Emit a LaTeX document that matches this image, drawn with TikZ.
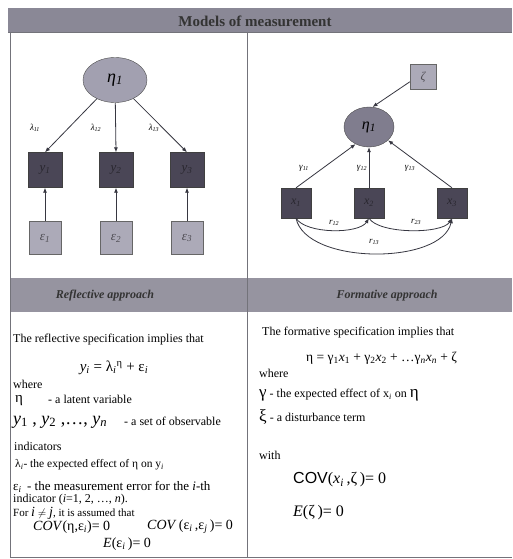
\documentclass[tikz,border=0pt]{standalone}
\usepackage{fontspec}
\setmainfont{Liberation Serif}
\newfontfamily\sansf{Liberation Sans}
\usetikzlibrary{arrows.meta,shapes.geometric}
\definecolor{band}{RGB}{138,136,150}
\definecolor{subband}{RGB}{150,148,160}
\definecolor{darkbox}{RGB}{74,70,86}
\definecolor{lightbox}{RGB}{172,170,184}
\definecolor{ellL}{RGB}{162,160,176}
\definecolor{ellR}{RGB}{128,125,142}
\definecolor{linec}{RGB}{55,55,65}
\newcommand{\lsub}[1]{\textsubscript{#1}}
\newcommand{\fs}[1]{\fontsize{#1}{#1}\selectfont}
\tikzset{
  rule/.style={draw=linec!70, line width=0.6pt},
  arr/.style={draw=linec, line width=0.8pt, -{Latex[length=5pt,width=4pt]}},
  dbox/.style={draw=black!75, fill=darkbox, minimum width=34pt, minimum height=35pt, inner sep=0pt, font=\fs{13}\itshape, text=darkbox!55!black},
  lbox/.style={draw=black!60, fill=lightbox, minimum width=32pt, minimum height=33pt, inner sep=0pt, font=\fs{13}\itshape, text=lightbox!45!black},
  lv/.style={ellipse, draw=black!70, fill=ellL, minimum width=64pt, minimum height=45pt, inner sep=0pt, font=\fs{18}\itshape},
  lab/.style={inner sep=0pt, font=\fs{9}\itshape},
  txt/.style={anchor=west, inner sep=0pt, font=\fs{12}},
  hdr/.style={inner sep=0pt, font=\fs{12}\bfseries\itshape, text=black!80},
}
\begin{document}
\begin{tikzpicture}[x=1pt,y=-1pt]
\useasboundingbox (0,0) rectangle (512,559);
\fill[white] (0,0) rectangle (512,559);
% table
\fill[band] (8,8) rectangle (512,32);
\node[inner sep=0pt, font=\fs{15}\bfseries, text=black!80] (title) at (255,21) {Models of measurement};
\fill[subband] (10,278) rectangle (512,312);
\draw[rule] (8,32) -- (512,32);
\draw[rule] (10,32) -- (10,557);
\draw[rule] (247,32) -- (247,557);
\draw[rule] (10,557) -- (512,557);
\node[hdr] (hl) at (105,296) {Reflective approach};
\node[hdr] (hr) at (387,296) {Formative approach};

% reflective diagram
\node[lv] (eta) at (115,80) {η\lsub{1}};
\node[dbox] (y1) at (45,170) {y\lsub{1}};
\node[dbox] (y2) at (116,170) {y\lsub{2}};
\node[dbox] (y3) at (187,170) {y\lsub{3}};
\node[lbox] (e1) at (45,238) {ε\lsub{1}};
\node[lbox] (e2) at (116,238) {ε\lsub{2}};
\node[lbox] (e3) at (187,238) {ε\lsub{3}};
\draw[arr] (eta) -- (y1.north);
\draw[arr] (eta) -- (y2.north);
\draw[arr] (eta) -- (y3.north);
\draw[arr] (e1) -- (y1);
\draw[arr] (e2) -- (y2);
\draw[arr] (e3) -- (y3);
\node[lab] (l11) at (35,128) {λ\lsub{11}};
\node[lab] (l12) at (96,128) {λ\lsub{12}};
\node[lab] (l13) at (154,128) {λ\lsub{13}};

% formative diagram
\node[lbox, minimum width=26pt, minimum height=25pt, font=\fs{12}\itshape] (zeta) at (423,77) {ζ};
\node[lv, fill=ellR, minimum width=50pt, minimum height=40pt, font=\fs{16}\itshape] (eta2) at (369,127) {η\lsub{1}};
\node[dbox, minimum width=30pt, minimum height=30pt, font=\fs{12}\itshape] (x1) at (296,203) {x\lsub{1}};
\node[dbox, minimum width=30pt, minimum height=30pt, font=\fs{12}\itshape] (x2) at (369,203) {x\lsub{2}};
\node[dbox, minimum width=30pt, minimum height=30pt, font=\fs{12}\itshape] (x3) at (452,203) {x\lsub{3}};
\draw[arr] (zeta.-160) -- (eta2.80);
\draw[arr] (x1.north) -- (eta2.232);
\draw[arr] (x2.north) -- (eta2.south);
\draw[arr] (x3.north) -- (eta2.-35);
\node[lab] (g11) at (304,168) {γ\lsub{11}};
\node[lab] (g12) at (362,168) {γ\lsub{12}};
\node[lab] (g13) at (410,168) {γ\lsub{13}};
\draw[arr] (x1.south) .. controls +(10,16) and +(-10,16) .. (x2.south);
\draw[arr] (x2.south) .. controls +(10,16) and +(-10,16) .. (x3.south);
\draw[arr] (x1.south) .. controls +(10,47) and +(-10,47) .. (x3.south);
\node[lab] (r12) at (334,223) {r\lsub{12}};
\node[lab] (r23) at (416,222) {r\lsub{23}};
\node[lab] (r13) at (374,242) {r\lsub{13}};

% reflective text
\node[txt] (a1) at (13,340) {The reflective specification implies that};
\node[inner sep=0pt, font=\fs{15}] (a2) at (114,368) {\textit{y}\lsub{\textit{i}} = λ\lsub{\textit{i}}\textsuperscript{η} + ε\lsub{\textit{i}}};
\node[txt] (a3) at (13,384) {where};
\node[txt, font=\fs{15}] (a4a) at (15,401) {η};
\node[txt] (a4b) at (48,399) {- a latent variable};
\node[txt, font=\fs{18}\itshape] (a5a) at (13,422) {y\lsub{\upshape 1}\textup{ , }y\lsub{\upshape 2}\textup{ ,…, }y\lsub{n}};
\node[txt] (a5b) at (124,421) {- a set of observable};
\node[txt] (a6) at (14,446) {indicators};
\node[txt, font=\fs{11.5}] (a7) at (15,465) {λ\lsub{\textit{i}}- the expected effect of η on y\lsub{\textit{i}}};
\node[txt, font=\fs{13}] (a8) at (13,487) {ε\lsub{\textit{i}} \,- the measurement error for the \textit{i}-th};
\node[txt] (a9) at (13,500) {indicator (\textit{i}=1, 2, …, \textit{n}).};
\node[txt, font=\fs{11}] (a10) at (13,513) {For {\fs{14}\itshape i} $\neq$ {\fs{14}\itshape j}, it is assumed that};
\node[txt, font=\fs{14}] (a11) at (33,527) {\textit{COV}(η,ε\lsub{\textit{i}})= 0};
\node[txt, font=\fs{14}] (a12) at (147,527) {\textit{COV}\,(ε\lsub{\textit{i}}\,,ε\lsub{\textit{j}}\,)= 0};
\node[txt, font=\fs{14}] (a13) at (103,544) {\textit{E}(ε\lsub{\textit{i}}\,)= 0};

% formative text
\node[txt] (b1) at (262,333) {The formative specification implies that};
\node[txt, font=\fs{13.5}] (b2) at (306,358) {η = γ\lsub{1}\textit{x}\lsub{1} + γ\lsub{2}\textit{x}\lsub{2} + …γ\lsub{\textit{n}}\textit{x}\lsub{\textit{n}} + ζ};
\node[txt] (b3) at (259,373) {where};
\node[txt] (b4) at (259,395) {{\fs{17}γ} - the expected effect of x\lsub{\textit{i}} on {\fs{17}η}};
\node[txt] (b5) at (259,417) {{\fs{17}ξ} - a disturbance term};
\node[txt] (b6) at (259,455) {with};
\node[txt, font=\fs{16}] (b7) at (293,480) {{\sansf COV}(\textit{x}\lsub{\textit{i}}\,,ζ\,)= 0};
\node[txt, font=\fs{16}] (b8) at (293,513) {\textit{E}(ζ\,)= 0};
\end{tikzpicture}
\end{document}
